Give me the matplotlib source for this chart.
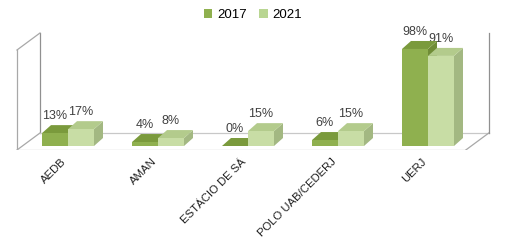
import matplotlib
matplotlib.use("Agg")
import matplotlib.pyplot as plt
from matplotlib.patches import Polygon, Patch
from matplotlib.transforms import ScaledTranslation
import numpy as np

categories = ["AEDB", "AMAN", "ESTÁCIO DE SÁ", "POLO UAB/CEDERJ", "UERJ"]
series_names = ["2017", "2021"]
values_2017 = [13, 4, 0, 6, 98]
values_2021 = [17, 8, 15, 15, 91]
value_labels_2017 = ["13%", "4%", "0%", "6%", "98%"]
value_labels_2021 = ["17%", "8%", "15%", "15%", "91%"]

front_colors = ["#8fb04f", "#c8dda5"]
top_colors = ["#7a9a3c", "#b3cb8c"]
side_colors = ["#6f8c36", "#a3b882"]
legend_colors = ["#8fb04f", "#b9d692"]

plt.rcParams['font.family'] = ['Liberation Sans', 'DejaVu Sans']

W, H = 509, 242
fig = plt.figure(figsize=(W / 100, H / 100), dpi=100)
ax = fig.add_axes([0, 92 / H, 1, 150 / H])
ax.set_xlim(-68 / 90, (W - 68) / 90)
ax.set_ylim(-4 / 0.99, 146 / 0.99)
for s in ax.spines.values():
    s.set_visible(False)
ax.set_yticks([])

# frame (walls and floor)
ddx_w, ddy_w = 23 / 90, 17 / 0.99
fx0, fx1 = -0.567, 4.42
fy = -4 / 0.99
wall_h = 100 / 0.99
wall_col = "#a8a8a8"
lw = 0.9
ax.plot([fx0, fx0], [fy, fy + wall_h], color=wall_col, lw=lw, zorder=1)
ax.plot([fx0 + ddx_w, fx0 + ddx_w], [fy + ddy_w, fy + ddy_w + wall_h], color="#909090", lw=lw, zorder=1)
ax.plot([fx0, fx0 + ddx_w], [fy + wall_h, fy + ddy_w + wall_h], color=wall_col, lw=lw, zorder=1)
ax.plot([fx0, fx0 + ddx_w], [fy, fy + ddy_w], color=wall_col, lw=lw, zorder=1)
ax.plot([fx0, fx1], [fy, fy], color="#b8b8b8", lw=lw, zorder=1)
ax.plot([fx0 + ddx_w, fx1 + ddx_w], [fy + ddy_w, fy + ddy_w], color="#c8c8c8", lw=lw, zorder=1)
ax.plot([fx1, fx1 + ddx_w], [fy, fy + ddy_w], color=wall_col, lw=lw, zorder=1)
ax.plot([fx1 + ddx_w, fx1 + ddx_w], [fy + ddy_w, fy + ddy_w + wall_h], color="#909090", lw=lw, zorder=1)

# bars
x = np.arange(len(categories))
bw = 26 / 90
ddx, ddy = 9 / 90, 8 / 0.99
series = [values_2017, values_2021]
labels = [value_labels_2017, value_labels_2021]
z = 3
for i in range(len(categories)):
    for k in range(2):
        v = series[k][i]
        x0 = x[i] - bw + k * bw
        top = Polygon([(x0, v), (x0 + bw, v), (x0 + bw + ddx, v + ddy), (x0 + ddx, v + ddy)],
                      closed=True, facecolor=top_colors[k], edgecolor="none", zorder=z)
        side = Polygon([(x0 + bw, 0), (x0 + bw + ddx, ddy), (x0 + bw + ddx, v + ddy), (x0 + bw, v)],
                       closed=True, facecolor=side_colors[k], edgecolor="none", zorder=z)
        ax.add_patch(side)
        ax.add_patch(top)
        ax.bar([x0], [v], width=bw, align='edge', color=front_colors[k], zorder=z + 0.5)
        ax.annotate(labels[k][i], (x0 + bw / 2, v), xytext=(0, 12.5), textcoords='offset points',
                    ha='center', va='center', fontsize=9, color="#404040", zorder=10)
        z += 1

ax.set_xticks(x)
ax.set_xticklabels(categories, rotation=45, ha='right', va='top', rotation_mode='anchor', fontsize=8.2,
                   color="#202020")
ax.tick_params(axis='x', length=0, pad=0)
offset = ScaledTranslation(-7 / 100, -6.5 / 100, fig.dpi_scale_trans)
for lab in ax.get_xticklabels():
    lab.set_transform(lab.get_transform() + offset)

handles = [Patch(facecolor=c) for c in legend_colors]
fig.legend(handles, series_names, loc='center', bbox_to_anchor=(253 / W, 1 - 15 / H), ncol=2,
           frameon=False, fontsize=9.5, handlelength=0.65, handleheight=0.65, handletextpad=0.4,
           columnspacing=0.9, borderpad=0)

fig.savefig("out.png", dpi=100, facecolor="white")
